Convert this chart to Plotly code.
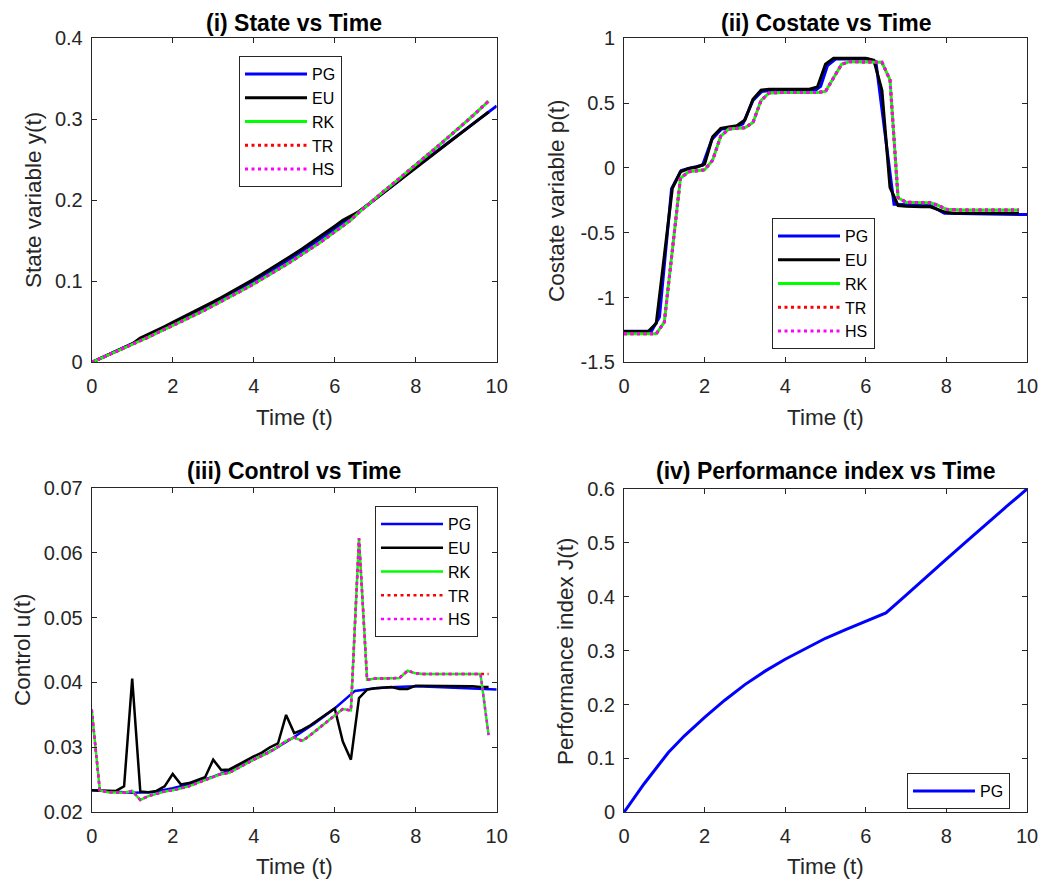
import plotly.graph_objects as go

# ---------------- data ----------------
t_num = [0.0, 0.2, 0.4, 0.6, 0.8, 1.0, 1.2, 1.4, 1.6, 1.8, 2.0, 2.2, 2.4, 2.6, 2.8,
         3.0, 3.2, 3.4, 3.6, 3.8, 4.0, 4.2, 4.4, 4.6, 4.8, 5.0, 5.2, 5.4, 5.6, 5.8,
         6.0, 6.2, 6.4, 6.6, 6.8, 7.0, 7.2, 7.4, 7.6, 7.8, 8.0, 8.2, 8.4, 8.6, 8.8,
         9.0, 9.2, 9.4, 9.6, 9.8]
t_pg = [0.0, 0.5, 1.0, 1.5, 2.0, 2.5, 3.0, 3.5, 4.0, 4.5, 5.0, 5.5, 6.0, 6.5, 7.0,
        7.5, 8.0, 8.5, 9.0, 9.5, 10.0]
t_pg_j = [0.0, 0.5, 1.1, 1.5, 2.0, 2.5, 3.0, 3.5, 4.0, 4.5, 5.0, 5.5, 6.0, 6.5, 7.0,
          7.5, 8.0, 8.5, 9.0, 9.5, 10.0]

# (i) state
y_pg = [0.0, 0.0112, 0.0226, 0.0345, 0.0468, 0.0592, 0.0720, 0.0855, 0.0998, 0.1148,
        0.1305, 0.1470, 0.1643, 0.1823, 0.2012, 0.2210, 0.2410, 0.2600, 0.2790, 0.2978, 0.3165]
y_eu = [0.0, 0.0045, 0.0090, 0.0135, 0.0180, 0.0226, 0.0300, 0.0345, 0.0393, 0.0442,
        0.0492, 0.0541, 0.0591, 0.0642, 0.0694, 0.0746, 0.0800, 0.0855, 0.0911, 0.0968,
        0.1026, 0.1086, 0.1146, 0.1208, 0.1272, 0.1336, 0.1401, 0.1468, 0.1537, 0.1608,
        0.1680, 0.1752, 0.1810, 0.1861, 0.1937, 0.2014, 0.2092, 0.2171, 0.2250, 0.2330,
        0.2410, 0.2486, 0.2562, 0.2638, 0.2714, 0.2790, 0.2865, 0.2940, 0.3015, 0.3090]
y_rk = [0.0, 0.0043, 0.0086, 0.0130, 0.0175, 0.0220, 0.0266, 0.0312, 0.0358, 0.0405,
        0.0452, 0.0500, 0.0548, 0.0597, 0.0647, 0.0698, 0.0750, 0.0803, 0.0857, 0.0912,
        0.0968, 0.1025, 0.1084, 0.1144, 0.1206, 0.1269, 0.1333, 0.1399, 0.1467, 0.1537,
        0.1609, 0.1682, 0.1757, 0.1852, 0.1940, 0.2024, 0.2106, 0.2188, 0.2270, 0.2352,
        0.2435, 0.2520, 0.2605, 0.2690, 0.2776, 0.2862, 0.2950, 0.3040, 0.3132, 0.3225]
y_tr = list(y_rk)
y_hs = list(y_rk)

# (ii) costate
t_pg_p = [0.0, 0.68, 0.88, 1.18, 1.42, 1.65, 1.95, 2.18, 2.42, 2.72, 2.95, 3.2, 3.42,
          3.65, 4.75, 4.88, 5.05, 5.25, 6.05, 6.25, 6.7, 7.6, 7.95, 10.0]
p_pg = [-1.26, -1.26, -1.15, -0.16, -0.02, 0.0, 0.02, 0.22, 0.30, 0.31, 0.34, 0.52, 0.59,
        0.60, 0.60, 0.63, 0.79, 0.84, 0.84, 0.82, -0.28, -0.29, -0.35, -0.36]
p_eu = [-1.263, -1.263, -1.263, -1.263, -1.20, -0.68, -0.157, -0.03, -0.005, 0.005,
        0.03, 0.24, 0.305, 0.315, 0.325, 0.37, 0.53, 0.60, 0.607, 0.607,
        0.607, 0.607, 0.607, 0.607, 0.625, 0.80, 0.846, 0.846, 0.846, 0.846,
        0.846, 0.83, 0.60, -0.15, -0.29, -0.295, -0.30, -0.30, -0.30, -0.325,
        -0.345, -0.35, -0.35, -0.35, -0.35, -0.35, -0.35, -0.35, -0.35, -0.35]
p_rk = [-1.28, -1.28, -1.28, -1.28, -1.28, -1.19, -0.635, -0.08, -0.03, -0.02,
        -0.015, 0.06, 0.245, 0.30, 0.305, 0.31, 0.35, 0.52, 0.578, 0.582,
        0.582, 0.582, 0.582, 0.582, 0.582, 0.59, 0.70, 0.80, 0.82, 0.82,
        0.82, 0.82, 0.815, 0.68, -0.23, -0.265, -0.268, -0.268, -0.268, -0.29,
        -0.32, -0.325, -0.325, -0.325, -0.325, -0.325, -0.325, -0.325, -0.325, -0.325]
p_tr = list(p_rk)
p_hs = list(p_rk)

# (iii) control
u_pg = [0.0234, 0.0232, 0.0230, 0.0231, 0.0237, 0.0245, 0.0255, 0.0267, 0.0281, 0.0297,
        0.0316, 0.0337, 0.0360, 0.0387, 0.0391, 0.0393, 0.0394, 0.0393, 0.0392, 0.0391, 0.0389]
u_eu = [0.0234, 0.0234, 0.0233, 0.0233, 0.0240, 0.0406, 0.0232, 0.0231, 0.0233, 0.0240,
        0.0259, 0.0243, 0.0245, 0.0249, 0.0254, 0.0281, 0.0265, 0.0266, 0.0273, 0.0280,
        0.0286, 0.0292, 0.0300, 0.0306, 0.0350, 0.0322, 0.0327, 0.0334, 0.0343, 0.0352,
        0.0360, 0.0309, 0.0281, 0.0376, 0.0389, 0.0391, 0.0392, 0.0393, 0.0390, 0.0390,
        0.0395, 0.0395, 0.0395, 0.0395, 0.0394, 0.0394, 0.0394, 0.0394, 0.0393, 0.0393]
u_rk = [0.0358, 0.0234, 0.0231, 0.0230, 0.0230, 0.0233, 0.0219, 0.0225, 0.0229, 0.0232,
        0.0234, 0.0237, 0.0240, 0.0245, 0.0250, 0.0254, 0.0259, 0.0261, 0.0268, 0.0274,
        0.0281, 0.0287, 0.0293, 0.0301, 0.0310, 0.0315, 0.0310, 0.0319, 0.0329, 0.0340,
        0.0350, 0.0359, 0.0357, 0.0622, 0.0404, 0.0406, 0.0406, 0.0407, 0.0407, 0.0418,
        0.0414, 0.0413, 0.0413, 0.0413, 0.0413, 0.0413, 0.0413, 0.0413, 0.0413, 0.0319]
u_tr = [0.0358, 0.0234, 0.0231, 0.0230, 0.0230, 0.0233, 0.0219, 0.0225, 0.0229, 0.0232,
        0.0234, 0.0237, 0.0240, 0.0245, 0.0250, 0.0254, 0.0259, 0.0261, 0.0268, 0.0274,
        0.0281, 0.0287, 0.0293, 0.0301, 0.0310, 0.0315, 0.0310, 0.0319, 0.0329, 0.0340,
        0.0350, 0.0359, 0.0357, 0.0622, 0.0404, 0.0406, 0.0406, 0.0407, 0.0407, 0.0418,
        0.0414, 0.0413, 0.0413, 0.0413, 0.0413, 0.0413, 0.0413, 0.0413, 0.0413, 0.0413]
u_hs = list(u_rk)

# (iv) performance index
j_pg = [0.0, 0.053, 0.111, 0.142, 0.176, 0.208, 0.237, 0.262, 0.284, 0.304, 0.323,
        0.339, 0.354, 0.370, 0.403, 0.437, 0.470, 0.503, 0.536, 0.568, 0.600]

methods = ["PG", "EU", "RK", "TR", "HS"]
colors = {"PG": "#0000FF", "EU": "#000000", "RK": "#00FF00", "TR": "#FF0000", "HS": "#FF00FF"}
dashes = {"PG": "solid", "EU": "solid", "RK": "solid", "TR": "3px,3.5px", "HS": "3px,3.5px"}

titles = ["(i) State vs Time", "(ii) Costate vs Time", "(iii) Control vs Time",
          "(iv) Performance index vs Time"]
ylabels = ["State variable y(t)", "Costate variable p(t)", "Control u(t)", "Performance index J(t)"]
xlabel = "Time (t)"
x_ticks = [0, 2, 4, 6, 8, 10]
y1_ticks = [0, 0.1, 0.2, 0.3, 0.4]
y2_ticks = [-1.5, -1, -0.5, 0, 0.5, 1]
y2_ticktext = ["-1.5", "-1", "-0.5", "0", "0.5", "1"]
y3_ticks = [0.02, 0.03, 0.04, 0.05, 0.06, 0.07]
y4_ticks = [0, 0.1, 0.2, 0.3, 0.4, 0.5, 0.6]

# ---------------- figure ----------------
FONT = "Liberation Sans, Arial, sans-serif"
AX = "#262626"
fig = go.Figure()

def add(x, y, name, xa, ya, leg, width):
    fig.add_trace(go.Scatter(
        x=x, y=y, name=name, mode="lines", xaxis=xa, yaxis=ya, legend=leg,
        line=dict(color=colors[name], width=width, dash=dashes[name])))

series1 = {"PG": (t_pg, y_pg), "EU": (t_num, y_eu), "RK": (t_num, y_rk),
           "TR": (t_num, y_tr), "HS": (t_num, y_hs)}
series2 = {"PG": (t_pg_p, p_pg), "EU": (t_num, p_eu), "RK": (t_num, p_rk),
           "TR": (t_num, p_tr), "HS": (t_num, p_hs)}
series3 = {"PG": (t_pg, u_pg), "EU": (t_num, u_eu), "RK": (t_num, u_rk),
           "TR": (t_num, u_tr), "HS": (t_num, u_hs)}
for m in methods:
    add(*series1[m], m, "x", "y", "legend", 3)
for m in methods:
    add(*series2[m], m, "x2", "y2", "legend2", 3)
for m in methods:
    add(*series3[m], m, "x3", "y3", "legend3", 2.5)
add(t_pg_j, j_pg, "PG", "x4", "y4", "legend4", 3)

W, H = 1045, 883
def px_x(p):
    return p / W
def px_y(p):
    return 1 - p / H

xd_left = [px_x(91.7), px_x(496.7)]
xd_right = [px_x(624), px_x(1027)]
yd_top = [px_y(362.3), px_y(38.3)]
yd_bot = [px_y(812.3), px_y(487.7)]
yd_bot4 = [px_y(812.3), px_y(489)]

tickfont = dict(family=FONT, size=20, color=AX)
common = dict(showline=True, linecolor=AX, linewidth=1, mirror="ticks", ticks="inside",
              ticklen=5, tickcolor=AX, showgrid=False, zeroline=False, tickfont=tickfont,
              automargin=False)

def xax(domain, anchor):
    return dict(domain=domain, anchor=anchor, range=[0, 10], tickvals=x_ticks,
                ticklabelstandoff=6, **common)

def yax(domain, anchor, rng, tv, tt=None):
    d = dict(domain=domain, anchor=anchor, range=rng, tickvals=tv, ticklabelstandoff=4, **common)
    if tt is not None:
        d["ticktext"] = tt
    return d

def legend(x, y):
    return dict(x=px_x(x), y=px_y(y), xanchor="left", yanchor="top", bgcolor="white",
                bordercolor=AX, borderwidth=1, font=dict(family=FONT, size=16, color="black"),
                itemwidth=62, tracegroupgap=0)

fig.update_layout(
    width=W, height=H, autosize=False, margin=dict(l=0, r=0, t=0, b=0, pad=0, autoexpand=False),
    paper_bgcolor="white", plot_bgcolor="white",
    font=dict(family=FONT, color=AX),
    xaxis=xax(xd_left, "y"), yaxis=yax(yd_top, "x", [0, 0.4], y1_ticks),
    xaxis2=xax(xd_right, "y2"), yaxis2=yax(yd_top, "x2", [-1.5, 1], y2_ticks, y2_ticktext),
    xaxis3=xax(xd_left, "y3"), yaxis3=yax(yd_bot, "x3", [0.02, 0.07], y3_ticks),
    xaxis4=xax(xd_right, "y4"), yaxis4=yax(yd_bot4, "x4", [0, 0.6], y4_ticks),
    legend=legend(239, 56), legend2=legend(772, 218), legend3=legend(375, 506),
    legend4=legend(907, 773),
    showlegend=True,
)

# titles and axis labels
title_pos = [(294.2, 23), (825.5, 23), (294.2, 471), (825.5, 471)]
for txt, (cx, cy) in zip(titles, title_pos):
    fig.add_annotation(text="<b>" + txt + "</b>", x=px_x(cx), y=px_y(cy), xref="paper", yref="paper",
                       showarrow=False, xanchor="center", yanchor="middle",
                       font=dict(family=FONT, size=23, color="black"))
xlab_pos = [(294.2, 417), (825.5, 417), (294.2, 866), (825.5, 866)]
for cx, cy in xlab_pos:
    fig.add_annotation(text=xlabel, x=px_x(cx), y=px_y(cy), xref="paper", yref="paper",
                       showarrow=False, xanchor="center", yanchor="middle",
                       font=dict(family=FONT, size=22.5, color=AX))
ylab_pos = [(33, 200), (557, 201), (22, 650), (565, 651)]
for txt, (cx, cy) in zip(ylabels, ylab_pos):
    fig.add_annotation(text=txt, x=px_x(cx), y=px_y(cy), xref="paper", yref="paper",
                       showarrow=False, xanchor="center", yanchor="middle", textangle=-90,
                       font=dict(family=FONT, size=22.5, color=AX))

fig.write_html("out.html", config={"responsive": False, "displayModeBar": False},
               post_script="document.body.style.margin='0';document.body.style.overflow='hidden';")
